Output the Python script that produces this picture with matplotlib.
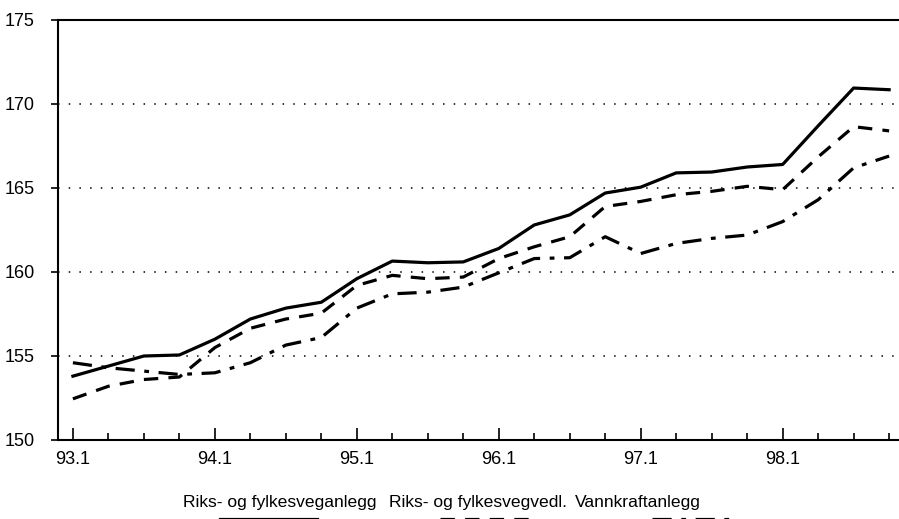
import matplotlib
matplotlib.use("Agg")
import matplotlib.pyplot as plt
from matplotlib.lines import Line2D

plt.rcParams['font.family'] = ['Liberation Sans', 'DejaVu Sans']

# quarters 93.1 .. 98.4
quarters = list(range(24))
tick_labels = ["93.1", "94.1", "95.1", "96.1", "97.1", "98.1"]

veganlegg = [153.8, 154.4, 155.0, 155.06, 156.0, 157.2, 157.85, 158.2, 159.6, 160.65,
             160.55, 160.6, 161.4, 162.8, 163.4, 164.7, 165.05, 165.9, 165.95, 166.25,
             166.4, 168.7, 170.95, 170.85]
vegvedl = [152.45, 153.2, 153.6, 153.75, 155.5, 156.65, 157.2, 157.55, 159.2, 159.8,
           159.6, 159.7, 160.8, 161.5, 162.1, 163.9, 164.2, 164.6, 164.8, 165.1,
           164.9, 166.85, 168.65, 168.4]
vannkraft = [154.6, 154.3, 154.1, 153.9, 154.0, 154.6, 155.65, 156.1, 157.85, 158.7,
             158.8, 159.1, 159.95, 160.8, 160.85, 162.1, 161.1, 161.7, 162.0, 162.2,
             163.0, 164.3, 166.2, 166.9]
names = ["Riks- og fylkesveganlegg", "Riks- og fylkesvegvedl.", "Vannkraftanlegg"]

fig = plt.figure(figsize=(8.99, 5.19), dpi=100)
ax = fig.add_axes([58 / 899, 79 / 519, 840 / 899, 420 / 519])

lw = 2.3
ax.plot(quarters, veganlegg, color="black", lw=lw, solid_joinstyle="round")
ax.plot(quarters, vegvedl, color="black", lw=lw, dashes=(4.5, 3.2))
ax.plot(quarters, vannkraft, color="black", lw=lw, dashes=(6, 3, 1.5, 3))

ax.set_xlim(-0.42, 23.25)
ax.set_ylim(150, 175)
ax.set_yticks([150, 155, 160, 165, 170, 175])
ax.set_xticks(quarters[::4])
ax.set_xticklabels(tick_labels)
ax.set_xticks(quarters, minor=True)

for y in [155, 160, 165, 170]:
    ax.axhline(y, color="black", lw=1.1, linestyle=(0, (1, 6)), zorder=0)

for s in ["left", "bottom", "top"]:
    ax.spines[s].set_linewidth(1.5)
ax.spines["right"].set_visible(False)

ax.tick_params(axis="x", which="major", direction="in", length=9, width=1.2,
               labelsize=13, pad=8)
ax.tick_params(axis="x", which="minor", direction="in", length=5, width=1.2)
ax.tick_params(axis="y", direction="out", length=5, width=1.2, labelsize=13, pad=12)

# legend: text with sample line beneath, partly cut off at bottom
text_x = [183, 389, 575]
line_x = [(220, 317), (440, 530), (652, 730)]
styles = [dict(), dict(dashes=(4.5, 3.2)), dict(dashes=(6, 3, 1.5, 3))]
for name, tx, (x0, x1), st in zip(names, text_x, line_x, styles):
    fig.text(tx / 899, 1 - 503 / 519, name, fontsize=12.6, va="center", ha="left")
    fig.add_artist(Line2D([x0 / 899, x1 / 899], [1 - 518.5 / 519] * 2,
                          transform=fig.transFigure, color="black", lw=lw, **st))

fig.savefig("out.png", dpi=100)
